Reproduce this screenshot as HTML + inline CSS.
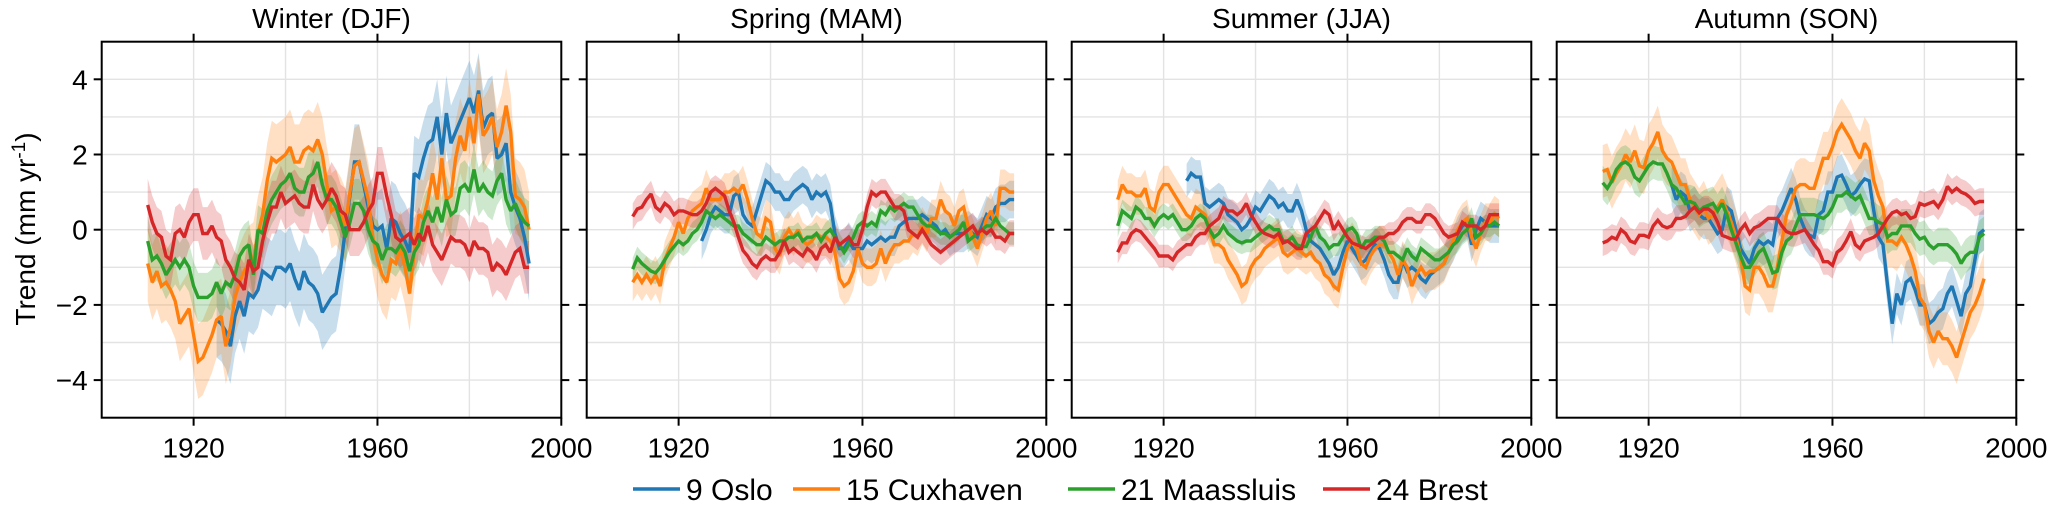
<!DOCTYPE html>
<html><head><meta charset="utf-8"><style>
html,body{margin:0;padding:0;background:#fff;}
svg{display:block;font-family:"Liberation Sans",Arial,sans-serif;}
</style></head><body>
<svg id="chart" width="2067" height="508" viewBox="0 0 2067 508" xmlns="http://www.w3.org/2000/svg"></svg>
<script>
const seasons = ["Winter (DJF)","Spring (MAM)","Summer (JJA)","Autumn (SON)"];
const stations = ["9 Oslo","15 Cuxhaven","21 Maassluis","24 Brest"];
const colors = ["#1f77b4","#ff7f0e","#2ca02c","#d62728"];
const startYears = [1925,1910,1910,1910];
const xTicks = [1920,1960,2000];
const yTicks = [-4,-2,0,2,4];
const yTickLabels = ["\u22124","\u22122","0","2","4"];

// Winter
const winterOslo = [-2.4,-2.5,-2.7,-3.1,-2.3,-1.9,-2.3,-1.7,-1.8,-1.6,-1.1,-1.2,-1.3,-1.0,-1.0,-1.1,-0.9,-1.3,-1.6,-1.1,-1.4,-1.5,-1.7,-2.2,-2.0,-1.8,-1.7,-1.0,0.0,0.9,1.8,1.8,1.2,0.6,0.1,0.0,0.1,-0.5,0.3,0.2,-0.1,-0.3,-0.6,1.5,1.4,1.9,2.3,2.4,3.0,2.0,3.1,2.3,2.6,2.9,3.2,3.5,3.1,3.7,2.7,3.0,3.1,1.9,2.0,2.3,1.0,0.6,0.3,-0.2,-0.9];
const winterCux = [-0.9,-1.4,-1.1,-1.5,-1.4,-1.6,-1.9,-2.5,-2.3,-2.1,-2.8,-3.5,-3.4,-3.1,-2.8,-2.4,-2.3,-3.1,-2.6,-1.8,-1.4,-1.1,-0.9,-0.8,-0.1,0.4,1.3,1.9,1.8,1.9,2.0,2.2,1.8,1.8,2.1,2.2,2.1,2.4,2.0,1.2,0.5,0.6,0.4,0.1,1.0,1.7,1.8,1.3,0.8,-0.2,-0.8,-1.2,-1.4,-0.8,-0.9,-0.5,-1.0,-1.7,-0.6,0.4,0.3,0.8,1.5,0.8,1.9,0.8,0.9,1.9,2.5,2.1,3.0,2.3,3.6,2.5,2.7,3.0,2.2,2.6,3.3,2.6,0.9,0.8,0.6,0.0];
const winterMaas = [-0.3,-0.8,-0.7,-0.9,-1.2,-1.0,-0.8,-1.0,-0.8,-1.0,-1.5,-1.8,-1.8,-1.8,-1.7,-1.4,-1.7,-1.4,-1.5,-1.2,-0.7,-0.5,-0.4,-1.2,0.0,-0.1,0.5,0.8,1.0,1.2,1.3,1.5,1.1,1.0,1.0,1.4,1.5,1.8,1.2,0.8,0.8,0.6,0.2,-0.2,0.2,0.7,0.7,0.5,0.0,-0.3,-0.4,-0.8,-0.5,-0.5,-0.6,-0.4,-0.6,-1.1,-0.6,-0.4,0.2,0.5,0.2,0.6,0.2,0.8,0.4,0.5,1.1,1.2,1.0,1.6,1.0,1.2,1.0,0.9,1.3,1.5,0.8,0.5,0.7,0.4,0.2,0.1];
const winterBrest = [0.66,0.2,-0.1,-0.2,-0.7,-0.8,-0.1,0.0,-0.2,0.2,0.4,0.4,-0.1,-0.1,0.1,-0.2,-0.3,-0.8,-1.0,-1.3,-1.4,-1.6,-0.8,-1.1,-1.0,-0.3,0.2,0.6,0.6,1.0,0.7,0.8,0.9,0.7,0.6,0.6,1.2,0.8,0.6,0.8,1.1,0.9,0.5,0.4,0.0,0.0,0.0,0.2,0.5,0.7,1.5,1.5,0.9,0.4,-0.2,-0.3,-0.2,-0.1,-0.4,-0.1,-0.3,0.1,-0.4,-0.6,-0.8,-0.5,-0.2,-0.3,-0.3,-0.4,-0.7,-0.3,-0.5,-0.5,-0.6,-1.1,-0.9,-1.0,-1.2,-0.9,-0.6,-0.5,-1.0,-1.0];
// Spring
const springOslo = [-0.3,0.0,0.4,0.6,0.5,0.4,0.4,0.9,1.0,0.4,0.2,0.1,0.5,0.9,1.3,1.2,1.0,1.0,0.8,0.8,1.0,1.1,1.2,1.1,0.8,1.0,0.9,1.0,0.7,-0.1,-0.5,-0.5,-0.3,-0.5,-0.5,-0.5,-0.3,-0.4,-0.3,-0.2,-0.3,-0.2,-0.2,0.1,0.2,0.3,0.3,0.3,0.4,0.3,0.2,0.1,-0.1,0.0,-0.2,-0.1,-0.1,-0.1,0.0,-0.1,-0.2,0.1,0.4,0.3,0.6,0.7,0.7,0.8,0.8];
const springCux = [-1.4,-1.2,-1.4,-1.2,-1.4,-1.2,-1.5,-0.8,-0.5,-0.2,0.2,-0.1,0.3,0.5,0.6,0.7,1.1,0.8,0.8,0.8,1.0,1.0,1.1,1.0,1.2,0.8,0.3,-0.1,-0.2,0.3,0.2,-0.5,-0.7,-0.2,0.0,-0.2,0.0,-0.3,-0.4,-0.3,-0.1,-0.2,-0.2,-0.3,-0.6,-1.3,-1.5,-1.4,-1.1,-0.5,-0.9,-1.0,-1.0,-0.9,-0.5,-0.9,-0.6,-0.4,-0.4,-0.3,-0.3,-0.1,-0.2,0.1,-0.1,0.3,0.3,0.8,0.5,0.4,0.1,0.5,0.6,0.1,-0.2,-0.5,-0.1,0.3,0.5,0.1,1.1,1.1,1.0,1.0];
const springMaas = [-1.05,-0.75,-0.9,-1.0,-1.1,-1.15,-1.0,-0.8,-0.6,-0.45,-0.3,-0.4,-0.3,-0.1,0.0,0.2,0.5,0.4,0.3,0.4,0.3,0.2,0.1,0.1,-0.1,-0.2,-0.3,-0.4,-0.4,-0.2,-0.3,-0.4,-0.3,-0.3,-0.2,-0.2,-0.1,-0.3,-0.2,-0.2,-0.1,-0.3,-0.1,0.0,-0.2,-0.4,-0.6,-0.4,-0.2,0.1,0.2,0.1,0.2,0.1,0.5,0.4,0.6,0.5,0.6,0.7,0.6,0.6,0.4,0.2,0.1,0.1,0.0,-0.1,-0.1,-0.2,-0.1,0.0,0.2,-0.3,-0.2,-0.1,0.0,0.1,0.1,0.3,0.1,0.0,-0.1,-0.1];
const springBrest = [0.35,0.55,0.6,0.8,0.95,0.6,0.5,0.7,0.6,0.4,0.5,0.5,0.45,0.4,0.4,0.5,0.7,1.0,1.1,1.0,0.9,0.5,0.2,-0.2,-0.55,-0.7,-0.9,-1.0,-0.8,-0.7,-0.8,-0.8,-0.6,-0.3,-0.6,-0.5,-0.6,-0.7,-0.5,-0.6,-0.8,-0.5,-0.4,-0.6,-0.2,-0.4,-0.3,-0.2,-0.4,-0.4,0.0,0.6,1.0,0.9,1.0,1.0,0.8,0.6,0.6,0.5,0.0,-0.1,-0.2,0.0,-0.2,-0.4,-0.5,-0.6,-0.5,-0.4,-0.3,-0.2,-0.1,0.0,0.1,-0.1,0.0,-0.1,0.0,-0.2,-0.2,-0.3,-0.1,-0.1];
// Summer
const summerOslo = [1.3,1.5,1.4,1.4,0.7,0.6,0.7,0.8,0.7,0.4,0.3,0.2,0.0,0.1,0.3,0.6,0.5,0.7,0.9,0.8,0.6,0.7,0.5,0.5,0.8,0.5,0.0,-0.3,-0.4,-0.5,-0.7,-0.9,-1.2,-1.0,-0.6,-0.3,-0.5,-0.7,-0.9,-0.8,-0.6,-0.4,-0.5,-0.8,-1.2,-1.4,-1.4,-0.8,-1.1,-1.0,-1.1,-1.3,-1.4,-1.2,-1.1,-1.0,-0.9,-0.6,-0.4,-0.1,0.1,0.2,-0.4,0.0,0.3,0.2,0.1,0.1,0.1];
const summerCux = [0.8,1.2,1.0,1.0,0.9,0.9,1.1,0.6,0.5,1.0,1.2,1.2,1.0,0.8,0.6,0.4,0.3,0.6,0.5,0.4,0.0,-0.4,-0.4,-0.5,-0.8,-1.0,-1.2,-1.5,-1.4,-1.0,-0.8,-0.7,-0.5,-0.4,-0.3,-0.2,-0.6,-0.7,-0.6,-0.5,-0.6,-0.7,-0.6,-0.8,-0.9,-1.2,-1.3,-1.5,-1.6,-1.0,-0.5,-0.3,-0.5,-0.9,-1.0,-0.7,-0.5,-0.4,-0.4,-0.6,-0.8,-1.2,-0.8,-1.0,-1.5,-1.2,-1.0,-1.2,-1.1,-1.1,-1.0,-0.9,-0.6,-0.3,0.0,0.2,0.3,-0.2,-0.5,-0.1,0.2,0.2,0.4,0.3];
const summerMaas = [0.1,0.5,0.4,0.3,0.6,0.5,0.3,0.3,0.1,0.3,0.4,0.3,0.4,0.2,0.0,0.0,0.1,0.3,0.4,0.3,0.0,-0.2,-0.1,0.1,-0.1,-0.2,-0.3,-0.35,-0.3,-0.3,-0.2,-0.1,0.0,0.1,0.0,0.0,-0.3,-0.3,-0.2,-0.4,-0.45,-0.45,-0.2,0.1,-0.2,-0.3,-0.5,-0.4,-0.4,-0.2,0.0,0.05,-0.1,-0.5,-0.3,-0.3,-0.2,-0.2,-0.3,-0.6,-0.6,-0.7,-0.8,-0.5,-0.7,-0.8,-0.5,-0.6,-0.7,-0.8,-0.8,-0.7,-0.6,-0.4,-0.3,-0.1,0.0,0.3,-0.2,-0.1,0.1,0.1,0.2,0.1];
const summerBrest = [-0.6,-0.35,-0.35,-0.1,0.0,-0.05,-0.2,-0.35,-0.5,-0.7,-0.7,-0.7,-0.8,-0.6,-0.5,-0.4,-0.4,-0.2,-0.1,-0.1,0.1,0.2,0.3,0.6,0.5,0.5,0.4,0.5,0.7,0.4,0.2,0.0,-0.1,-0.15,-0.2,-0.1,-0.35,-0.3,-0.4,-0.5,-0.5,-0.1,0.0,0.1,0.3,0.5,0.4,0.0,0.2,0.0,-0.2,-0.35,-0.4,-0.45,-0.5,-0.4,-0.3,-0.2,-0.2,-0.1,-0.1,0.0,0.2,0.3,0.3,0.2,0.2,0.4,0.4,0.3,0.1,-0.1,-0.2,-0.15,-0.1,0.2,0.1,0.1,0.1,0.0,0.1,0.4,0.4,0.4];
// Autumn
const autumnOslo = [1.2,0.8,1.0,0.9,0.5,0.6,0.4,0.3,0.3,0.1,-0.1,0.0,0.6,0.5,0.0,-0.5,-0.7,-0.9,-0.5,-0.3,-0.4,-0.3,-0.4,0.3,0.5,0.8,1.1,0.8,0.3,0.0,-0.15,-0.2,0.4,0.5,1.0,1.0,1.4,1.45,1.2,0.9,1.0,1.2,1.35,1.3,0.5,-0.2,-0.4,-1.5,-2.5,-1.7,-2.0,-1.4,-1.3,-1.6,-2.0,-2.0,-2.5,-2.4,-2.2,-2.1,-1.7,-1.5,-1.9,-2.3,-1.7,-1.5,-0.8,-0.1,0.0];
const autumnCux = [1.55,1.6,1.25,1.5,1.7,2.0,1.8,2.1,1.7,1.65,2.1,2.3,2.6,2.1,1.9,1.8,1.5,1.2,1.2,0.8,0.6,0.4,0.6,0.3,0.4,0.6,0.8,0.5,0.2,-0.2,-0.7,-1.5,-1.6,-1.0,-1.0,-1.2,-1.5,-1.5,-1.0,-0.3,0.4,0.7,1.1,1.2,1.2,1.1,1.1,1.5,1.9,1.9,2.2,2.6,2.8,2.6,2.4,2.1,1.9,2.3,2.1,1.3,0.9,0.6,-0.3,-0.3,-0.4,-0.2,-0.4,-0.7,-1.1,-1.8,-2.0,-2.7,-3.0,-2.7,-2.9,-2.9,-3.1,-3.4,-3.0,-2.6,-2.2,-2.0,-1.7,-1.3];
const autumnMaas = [1.25,1.1,1.3,1.6,1.75,1.8,1.7,1.4,1.3,1.5,1.7,1.8,1.75,1.75,1.5,1.2,1.1,0.9,0.7,0.75,0.7,0.5,0.6,0.65,0.7,0.5,0.7,0.4,0.0,-0.35,-0.7,-1.0,-1.0,-0.8,-0.6,-0.5,-0.8,-1.15,-1.1,-0.6,-0.3,-0.2,0.1,0.4,0.4,0.4,0.4,0.35,0.3,0.4,0.6,0.9,0.9,1.0,0.9,0.8,0.9,0.6,0.3,0.3,0.2,0.15,-0.2,-0.1,-0.1,0.1,0.1,0.1,-0.1,-0.25,-0.2,-0.4,-0.5,-0.4,-0.4,-0.4,-0.5,-0.65,-0.9,-0.7,-0.6,-0.6,-0.2,-0.1];
const autumnBrest = [-0.35,-0.3,-0.2,-0.25,0.0,-0.1,-0.3,-0.35,-0.15,-0.15,-0.2,0.1,0.25,0.1,0.05,0.1,0.3,0.3,0.35,0.5,0.6,0.45,0.55,0.55,0.45,0.2,-0.15,-0.2,-0.25,-0.25,0.0,0.15,-0.1,0.05,0.1,0.2,0.3,0.3,0.3,0.1,-0.05,-0.1,-0.1,-0.05,0.0,-0.2,-0.4,-0.55,-0.85,-0.85,-0.95,-0.6,-0.5,-0.3,-0.05,-0.4,-0.5,-0.3,-0.25,-0.2,-0.1,0.1,0.3,0.45,0.5,0.4,0.45,0.3,0.35,0.7,0.65,0.7,0.75,0.6,0.8,1.15,1.0,1.1,1.0,0.95,0.85,0.7,0.75,0.75];

// uncertainty half-widths (mm/yr) per season, per station
const winterBand = [1.0,1.0,0.65,0.7];
const springBand = [0.5,0.5,0.3,0.35];
const summerBand = [0.45,0.5,0.3,0.3];
const autumnBand = [0.55,0.7,0.45,0.35];

const seriesBySeason = [
  [winterOslo,winterCux,winterMaas,winterBrest],
  [springOslo,springCux,springMaas,springBrest],
  [summerOslo,summerCux,summerMaas,summerBrest],
  [autumnOslo,autumnCux,autumnMaas,autumnBrest]
];
const bandsBySeason = [winterBand,springBand,summerBand,autumnBand];

const NS = "http://www.w3.org/2000/svg";
const svgEl = document.getElementById("chart");
const panelLeft = [101.7,586.7,1071.7,1556.7];
const panelW = 459.6, plotTop = 41.7, plotBottom = 417.7;
const xMin = 1900, xMax = 2000, yMin = -5, yMax = 5;
function sx(p, yr){ return panelLeft[p] + (yr - xMin) / (xMax - xMin) * panelW; }
function sy(v){ return plotBottom - (v - yMin) / (yMax - yMin) * (plotBottom - plotTop); }
function mk(tag, attrs, parent){
  const e = document.createElementNS(NS, tag);
  for (const k in attrs) e.setAttribute(k, attrs[k]);
  (parent || svgEl).appendChild(e);
  return e;
}

for (let p = 0; p < 4; p++) {
  const g = mk("g", {});
  
  
  const L = panelLeft[p], R = L + panelW;
  for (let v = -4; v <= 4; v++) {
    const gl = mk("line", {x1:L, x2:R, y1:sy(v), y2:sy(v), stroke:"#e3e3e3", "stroke-width":1.4}, g);
    
    
  }
  for (let yr = 1920; yr < 2000; yr += 20) {
    const gl = mk("line", {x1:sx(p,yr), x2:sx(p,yr), y1:plotTop, y2:plotBottom, stroke:"#e3e3e3", "stroke-width":1.4}, g);
    
    
  }
  const series = seriesBySeason[p], bands = bandsBySeason[p];
  for (let s = 0; s < 4; s++) {
    const d = series[s], y0 = startYears[s];
    let up = [], dn = [];
    for (let i = 0; i < d.length; i++) {
      up.push(sx(p, y0 + i).toFixed(1) + "," + sy(d[i] + bands[s]).toFixed(1));
      dn.push(sx(p, y0 + i).toFixed(1) + "," + sy(d[i] - bands[s]).toFixed(1));
    }
    const band = mk("polygon", {points: up.concat(dn.reverse()).join(" "), fill: colors[s], "fill-opacity": 0.24, stroke: "none"}, g);
    
    
  }
  for (let s = 0; s < 4; s++) {
    const d = series[s], y0 = startYears[s];
    const pts = d.map((v, i) => sx(p, y0 + i).toFixed(1) + "," + sy(v).toFixed(1)).join(" ");
    const line = mk("polyline", {points: pts, fill: "none", stroke: colors[s], "stroke-width": 3.4, "stroke-linejoin": "miter", "stroke-miterlimit": 2}, g);
    
    
  }
  const fr = mk("rect", {x:L, y:plotTop, width:panelW, height:plotBottom-plotTop, fill:"none", stroke:"#000", "stroke-width":2}, g);
  
  
  yTicks.forEach((v, i) => {
    const t1 = mk("line", {x1:L-8, x2:L, y1:sy(v), y2:sy(v), stroke:"#000", "stroke-width":2}, g);
    
    
    const t2 = mk("line", {x1:R, x2:R+8, y1:sy(v), y2:sy(v), stroke:"#000", "stroke-width":2}, g);
    
    
    if (p === 0) {
      const tl = mk("text", {x:L-14, y:sy(v)+10, "text-anchor":"end", "font-size":28, fill:"#000"}, g);
      tl.textContent = yTickLabels[i];
      
      
    }
  });
  xTicks.forEach(yr => {
    const x = sx(p, yr);
    const tb = mk("line", {x1:x, x2:x, y1:plotBottom, y2:plotBottom+8, stroke:"#000", "stroke-width":2}, g);
    
    
    if (yr < 2000) {
      const tt = mk("line", {x1:x, x2:x, y1:plotTop-8, y2:plotTop, stroke:"#000", "stroke-width":2}, g);
      
      
    }
    const lab = mk("text", {x:x, y:plotBottom+40, "text-anchor":"middle", "font-size":28, fill:"#000"}, g);
    lab.textContent = String(yr);
    
    
  });
  const title = mk("text", {x:L+panelW/2, y:28, "text-anchor":"middle", "font-size":28, fill:"#000"}, g);
  title.textContent = seasons[p];
  
  
}

const yt = mk("text", {x:0, y:0, "text-anchor":"middle", "font-size":28, fill:"#000", transform:"translate(35,229) rotate(-90)"});


const ytA = mk("tspan", {}, yt);
ytA.textContent = "Trend (mm yr";
const ytB = mk("tspan", {dy:-10, "font-size":19}, yt);
ytB.textContent = "-1";
const ytC = mk("tspan", {dy:10}, yt);
ytC.textContent = ")";

const legX = [633, 793, 1068, 1323];
const leg = mk("g", {});


for (let s = 0; s < 4; s++) {
  const e = mk("g", {}, leg);
  
  
  const ln = mk("line", {x1:legX[s], x2:legX[s]+47, y1:489, y2:489, stroke:colors[s], "stroke-width":3.6}, e);
  
  
  const tx = mk("text", {x:legX[s]+53, y:500, "font-size":30, fill:"#000"}, e);
  tx.textContent = stations[s];
  
  
}
</script>
</body></html>
